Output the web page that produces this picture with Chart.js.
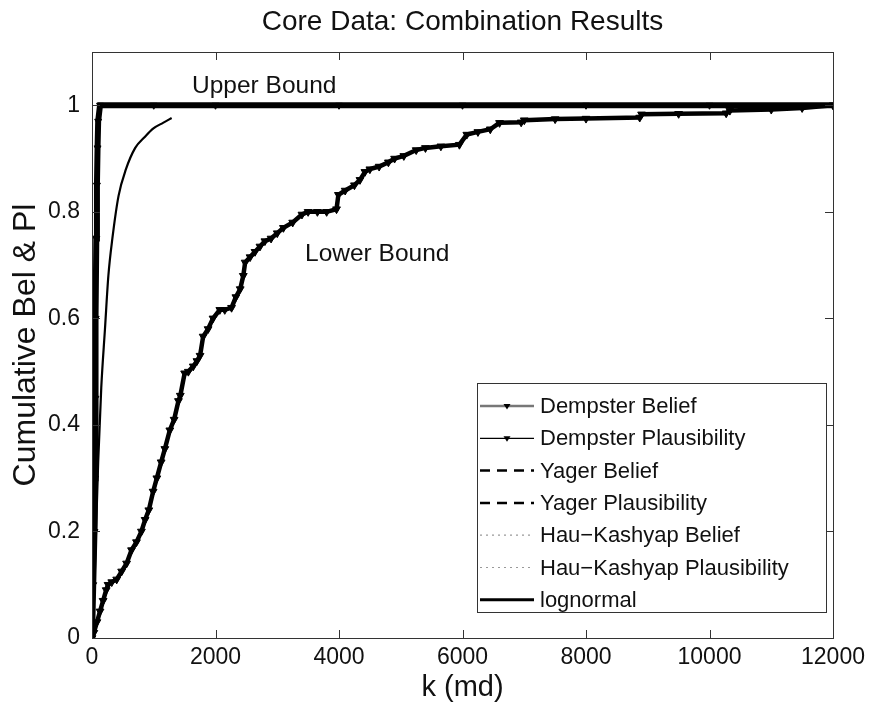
<!DOCTYPE html>
<html>
<head>
<meta charset="utf-8">
<script src="https://cdn.jsdelivr.net/npm/chart.js@4.4.1/dist/chart.umd.min.js"></script>
<style>
  html, body { margin: 0; padding: 0; background: #fff; }
  #wrap { width: 877px; height: 705px; }
</style>
</head>
<body>
<div id="wrap"><canvas id="c" width="877" height="705"></canvas></div>
<script>
const chartTitle = 'Core Data: Combination Results';
const xTitle = 'k (md)';
const yTitle = 'Cumulative Bel & Pl';
const xTicks = [0, 2000, 4000, 6000, 8000, 10000, 12000];
const yTicks = [0, 0.2, 0.4, 0.6, 0.8, 1];
const seriesNames = ['Dempster Belief', 'Dempster Plausibility', 'Yager Belief', 'Yager Plausibility',
  'Hau\u2212Kashyap Belief', 'Hau\u2212Kashyap Plausibility', 'lognormal'];

// Lower bound (belief)
const lowerK = [0, 30, 80, 130, 180, 230, 260, 320, 400, 480, 560, 640, 720, 800, 860, 920, 990, 1050, 1120, 1180,
  1260, 1330, 1400, 1430, 1500, 1560, 1640, 1700, 1750, 1800, 1880, 1960, 2070, 2150, 2260, 2330, 2400, 2450, 2480,
  2560, 2640, 2720, 2800, 2900, 3000, 3100, 3250, 3400, 3500, 3650, 3800, 3960, 3990, 4100, 4250, 4340, 4420, 4500,
  4650, 4800, 4900, 5050, 5250, 5400, 5650, 5950, 6070, 6250, 6450, 6600, 6950, 7000, 7500, 8000, 8870, 8900, 9500,
  10270, 10330, 11000, 11500, 12000];
const lowerBel = [0, 0.01, 0.03, 0.05, 0.07, 0.09, 0.10, 0.105, 0.11, 0.125, 0.14, 0.165, 0.18, 0.20, 0.222, 0.24,
  0.275, 0.30, 0.33, 0.355, 0.39, 0.41, 0.445, 0.455, 0.497, 0.50, 0.51, 0.52, 0.53, 0.566, 0.58, 0.60, 0.616, 0.616,
  0.62, 0.64, 0.655, 0.68, 0.705, 0.715, 0.725, 0.735, 0.745, 0.75, 0.76, 0.77, 0.78, 0.795, 0.80, 0.80, 0.80, 0.805,
  0.832, 0.84, 0.85, 0.86, 0.875, 0.88, 0.885, 0.893, 0.90, 0.905, 0.916, 0.92, 0.923, 0.926, 0.945, 0.95, 0.955,
  0.967, 0.968, 0.972, 0.974, 0.975, 0.977, 0.983, 0.984, 0.985, 0.99, 0.992, 0.995, 1.0];

// Upper bound (plausibility)
const upperK = [0, 20, 40, 50, 55, 60, 70, 80, 90, 100, 130, 1000, 2000, 4000, 6000, 8000, 10000, 12000];
const upperPl = [0, 0.1, 0.2, 0.3, 0.45, 0.6, 0.75, 0.85, 0.92, 0.97, 1.0, 1.0, 1.0, 1.0, 1.0, 1.0, 1.0, 1.0];

// Lognormal fit
const logK = [0, 20, 50, 100, 150, 210, 265, 330, 430, 550, 700, 850, 1000, 1150, 1290];
const logVal = [0, 0.03, 0.14, 0.33, 0.47, 0.58, 0.68, 0.75, 0.83, 0.88, 0.92, 0.94, 0.957, 0.967, 0.976];

const FONT = '"Liberation Sans", Arial, Helvetica, sans-serif';

function pts(xs, ys) { return xs.map((x, i) => ({ x: x, y: ys[i] })); }

const legendStyles = [
  { color: '#777', width: 2.5, dash: [], marker: true },
  { color: '#000', width: 1.2, dash: [], marker: true },
  { color: '#000', width: 2.5, dash: [10, 7], marker: false },
  { color: '#000', width: 2.5, dash: [10, 7], marker: false },
  { color: '#999', width: 1.2, dash: [2, 4], marker: false },
  { color: '#999', width: 1.2, dash: [2, 4], marker: false },
  { color: '#000', width: 3, dash: [], marker: false }
];

function triDown(ctx, x, y, r) {
  ctx.beginPath();
  ctx.moveTo(x - r, y - r * 0.6);
  ctx.lineTo(x + r, y - r * 0.6);
  ctx.lineTo(x, y + r);
  ctx.closePath();
  ctx.fill();
}

const decor = {
  id: 'decor',
  afterDraw(chart) {
    const ctx = chart.ctx;
    const a = chart.chartArea;
    const xs = chart.scales.x, ys = chart.scales.y;
    ctx.save();
    // frame
    ctx.strokeStyle = '#333';
    ctx.lineWidth = 1;
    ctx.strokeRect(a.left + 0.5, a.top + 0.5, a.right - a.left, a.bottom - a.top);
    // inward ticks
    const tl = 8;
    ctx.beginPath();
    xTicks.forEach(v => {
      const px = Math.round(xs.getPixelForValue(v)) + 0.5;
      ctx.moveTo(px, a.bottom); ctx.lineTo(px, a.bottom - tl);
      ctx.moveTo(px, a.top); ctx.lineTo(px, a.top + tl);
    });
    yTicks.forEach(v => {
      const py = Math.round(ys.getPixelForValue(v)) + 0.5;
      ctx.moveTo(a.left, py); ctx.lineTo(a.left + tl, py);
      ctx.moveTo(a.right, py); ctx.lineTo(a.right - tl, py);
    });
    ctx.stroke();

    // title
    ctx.fillStyle = '#111';
    ctx.font = '28px ' + FONT;
    ctx.textAlign = 'center';
    ctx.textBaseline = 'middle';
    ctx.fillText(chartTitle, (a.left + a.right) / 2, 22);

    // annotations
    ctx.font = '24.5px ' + FONT;
    ctx.textAlign = 'left';
    ctx.fillText('Upper Bound', xs.getPixelForValue(1620), ys.getPixelForValue(1.035));
    ctx.fillText('Lower Bound', xs.getPixelForValue(3450), ys.getPixelForValue(0.72));

    // legend box
    const bx = 477, by = 383, bw = 349, bh = 229;
    ctx.fillStyle = '#fff';
    ctx.fillRect(bx, by, bw, bh);
    ctx.strokeStyle = '#333';
    ctx.lineWidth = 1;
    ctx.setLineDash([]);
    ctx.strokeRect(bx + 0.5, by + 0.5, bw, bh);
    ctx.font = '22px ' + FONT;
    seriesNames.forEach((name, i) => {
      const yy = by + 23 + i * 32.3;
      const st = legendStyles[i];
      ctx.strokeStyle = st.color;
      ctx.lineWidth = st.width;
      ctx.setLineDash(st.dash);
      ctx.beginPath();
      ctx.moveTo(bx + 3, yy); ctx.lineTo(bx + 57, yy);
      ctx.stroke();
      ctx.setLineDash([]);
      if (st.marker) { ctx.fillStyle = '#000'; triDown(ctx, bx + 30, yy, 3.5); }
      ctx.fillStyle = '#111';
      ctx.textAlign = 'left';
      ctx.fillText(name, bx + 63, yy + 1);
    });
    ctx.restore();
  }
};

const ctx = document.getElementById('c').getContext('2d');
new Chart(ctx, {
  type: 'scatter',
  data: {
    datasets: [
      { label: seriesNames[0], data: pts(lowerK, lowerBel), showLine: true, borderColor: '#000', borderWidth: 4.5,
        pointStyle: 'triangle', rotation: 180, pointRadius: 4.5, pointBackgroundColor: '#000', pointBorderColor: '#000', pointBorderWidth: 1 },
      { label: seriesNames[1], data: pts(upperK, upperPl), showLine: true, borderColor: '#000', borderWidth: 6,
        pointStyle: 'triangle', rotation: 180, pointRadius: 4, pointBackgroundColor: '#000', pointBorderColor: '#000', pointBorderWidth: 1 },
      { label: seriesNames[2], data: pts(lowerK, lowerBel), showLine: true, borderColor: '#000', borderWidth: 2,
        borderDash: [10, 7], pointRadius: 0 },
      { label: seriesNames[3], data: pts(upperK, upperPl), showLine: true, borderColor: '#000', borderWidth: 2,
        borderDash: [10, 7], pointRadius: 0 },
      { label: seriesNames[4], data: pts(lowerK, lowerBel), showLine: true, borderColor: '#999', borderWidth: 1,
        borderDash: [2, 4], pointRadius: 0 },
      { label: seriesNames[5], data: pts(upperK, upperPl), showLine: true, borderColor: '#999', borderWidth: 1,
        borderDash: [2, 4], pointRadius: 0 },
      { label: seriesNames[6], data: pts(logK, logVal), showLine: true, borderColor: '#000', borderWidth: 2.2,
        pointRadius: 0, cubicInterpolationMode: 'monotone' }
    ]
  },
  options: {
    responsive: false,
    animation: false,
    events: [],
    layout: { padding: { top: 52, right: 44, left: 0, bottom: 0 } },
    plugins: { legend: { display: false }, title: { display: false }, tooltip: { enabled: false } },
    scales: {
      x: {
        type: 'linear', min: 0, max: 12000,
        grid: { display: false, drawTicks: false },
        border: { display: false },
        afterBuildTicks: s => { s.ticks = xTicks.map(v => ({ value: v })); },
        afterFit: s => { s.height = 705 - 638; },
        ticks: { color: '#111', font: { family: FONT, size: 23 }, padding: 6, maxRotation: 0, callback: v => String(v) },
        title: { display: true, text: xTitle, color: '#111', font: { family: FONT, size: 29 }, padding: { top: 0, bottom: 0 } }
      },
      y: {
        type: 'linear', min: 0, max: 1.1,
        grid: { display: false, drawTicks: false },
        border: { display: false },
        afterBuildTicks: s => { s.ticks = yTicks.map(v => ({ value: v })); },
        afterFit: s => { s.width = 92; },
        ticks: { color: '#111', font: { family: FONT, size: 23 }, padding: 12, callback: v => String(v) },
        title: { display: true, text: yTitle, color: '#111', font: { family: FONT, size: 32 }, padding: { top: 7, bottom: 0 } }
      }
    }
  },
  plugins: [decor]
});
</script>
</body>
</html>
